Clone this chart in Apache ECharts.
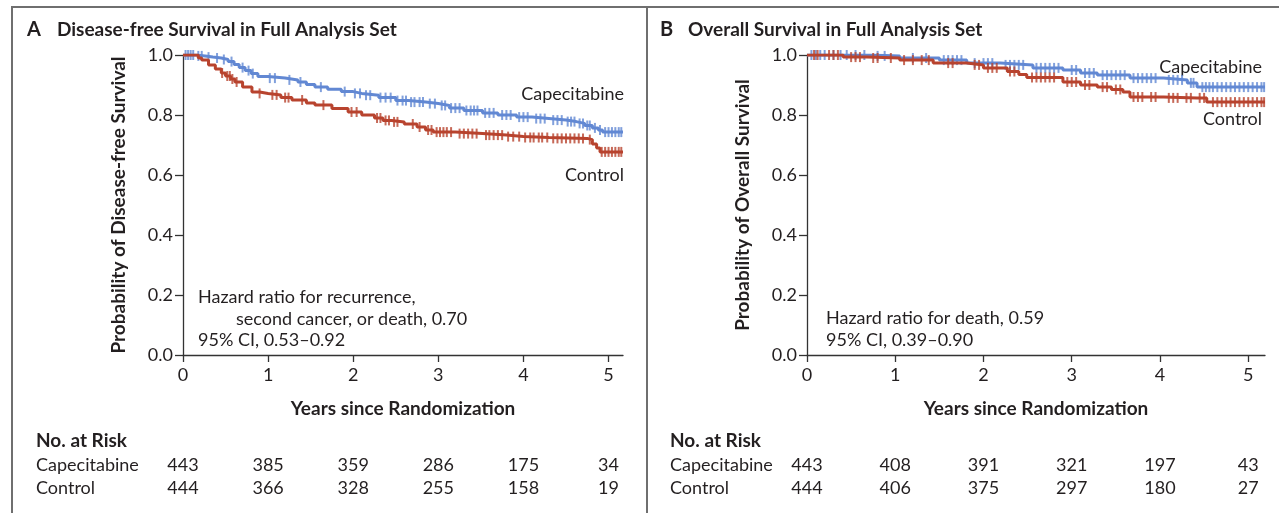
<!DOCTYPE html>
<html>
<head>
<meta charset="utf-8">
<script src="https://cdn.jsdelivr.net/npm/echarts@6/dist/echarts.min.js"></script>
<style>
html,body{margin:0;padding:0;background:#fff;}
#c{width:1279px;height:513px;}
</style>
</head>
<body>
<div id="c"></div>
<script>
// ---------- DATA ----------
var xTicks = [0, 1, 2, 3, 4, 5];
var yTicks = [0, 0.2, 0.4, 0.6, 0.8, 1.0];

// Panel A: Disease-free survival (step points [years, probability])
var dfsCape = [[0,1],[0.15,0.997],[0.26,0.993],[0.35,0.99],[0.45,0.985],[0.53,0.978],[0.6,0.968],[0.66,0.958],[0.73,0.948],[0.8,0.938],[0.88,0.928],[1.0,0.923],[1.2,0.917],[1.35,0.91],[1.45,0.902],[1.55,0.893],[1.7,0.886],[1.86,0.878],[2.0,0.872],[2.1,0.866],[2.3,0.858],[2.5,0.848],[2.65,0.843],[2.85,0.838],[3.0,0.832],[3.13,0.823],[3.3,0.815],[3.52,0.807],[3.7,0.8],[3.92,0.793],[4.1,0.788],[4.3,0.783],[4.5,0.778],[4.62,0.772],[4.72,0.765],[4.81,0.757],[4.88,0.75],[4.93,0.743],[5.17,0.743]];
var dfsCtrl = [[0,1],[0.18,0.99],[0.22,0.983],[0.3,0.967],[0.38,0.953],[0.45,0.94],[0.5,0.93],[0.56,0.92],[0.61,0.91],[0.7,0.893],[0.81,0.877],[0.9,0.872],[1.0,0.867],[1.15,0.858],[1.28,0.85],[1.45,0.84],[1.55,0.833],[1.75,0.822],[1.94,0.81],[2.1,0.8],[2.25,0.79],[2.35,0.782],[2.45,0.777],[2.6,0.77],[2.75,0.76],[2.85,0.75],[2.94,0.743],[3.2,0.738],[3.52,0.733],[3.8,0.728],[4.0,0.725],[4.3,0.722],[4.75,0.718],[4.81,0.703],[4.86,0.69],[4.9,0.677],[5.17,0.677]];
var dfsCapeCensor = [0.03,0.06,0.09,0.12,0.18,0.22,0.3,0.4,0.48,0.57,0.7,0.77,0.82,1.02,1.08,1.25,1.38,1.62,1.9,2.02,2.08,2.15,2.2,2.32,2.38,2.44,2.52,2.58,2.62,2.68,2.72,2.78,2.82,2.9,2.96,3.04,3.08,3.15,3.2,3.25,3.33,3.38,3.42,3.46,3.55,3.6,3.65,3.75,3.8,3.85,3.95,4.0,4.05,4.15,4.2,4.25,4.35,4.4,4.45,4.52,4.56,4.6,4.66,4.7,4.75,4.78,4.84,4.9,4.96,5.0,5.04,5.08,5.12,5.15];
var dfsCtrlCensor = [0.46,0.52,0.55,0.58,0.63,0.9,1.05,1.1,1.2,1.24,1.4,1.65,1.98,2.04,2.28,2.32,2.38,2.42,2.48,2.52,2.7,2.78,2.88,2.92,2.98,3.02,3.06,3.1,3.15,3.25,3.3,3.35,3.4,3.45,3.56,3.6,3.65,3.7,3.75,3.82,3.88,3.95,4.02,4.08,4.12,4.18,4.22,4.28,4.35,4.4,4.45,4.5,4.55,4.6,4.65,4.7,4.78,4.92,4.96,5.0,5.04,5.08,5.12,5.15];

// Panel B: Overall survival
var osCape = [[0,1],[0.71,0.997],[1.05,0.99],[1.5,0.983],[1.81,0.973],[2.19,0.967],[2.56,0.957],[2.9,0.95],[3.1,0.94],[3.29,0.933],[3.66,0.923],[4.04,0.917],[4.31,0.907],[4.42,0.893],[5.19,0.893]];
var osCtrl = [[0,1],[0.41,0.993],[0.68,0.99],[1.05,0.983],[1.43,0.973],[1.81,0.967],[2.0,0.957],[2.27,0.945],[2.4,0.935],[2.49,0.925],[2.9,0.91],[3.1,0.9],[3.29,0.893],[3.45,0.885],[3.58,0.877],[3.66,0.86],[4.04,0.857],[4.42,0.857],[4.53,0.843],[5.19,0.843]];
var osCapeCensor = [0.05,0.1,0.15,0.2,0.3,0.38,0.45,0.55,0.65,0.8,0.88,1.2,1.35,1.55,1.6,1.65,1.7,1.75,1.9,2.0,2.05,2.1,2.25,2.3,2.35,2.4,2.45,2.6,2.65,2.7,2.75,2.8,2.85,3.0,3.05,3.15,3.2,3.25,3.35,3.4,3.45,3.5,3.55,3.6,3.7,3.75,3.8,3.85,3.9,3.95,4.1,4.15,4.2,4.25,4.35,4.38,4.48,4.52,4.56,4.6,4.65,4.7,4.75,4.8,4.85,4.9,4.95,5.0,5.05,5.1,5.15,5.18];
var osCtrlCensor = [0.08,0.12,0.25,0.3,0.35,0.5,0.55,0.6,0.75,0.8,0.95,1.1,1.2,1.3,1.38,1.6,1.65,1.9,1.95,2.05,2.1,2.15,2.3,2.35,2.55,2.6,2.65,2.7,2.75,2.8,2.95,3.0,3.05,3.15,3.2,3.35,3.4,3.5,3.55,3.7,3.75,3.8,3.9,3.95,4.1,4.15,4.2,4.3,4.35,4.45,4.5,4.6,4.65,4.7,4.75,4.8,4.85,4.9,4.95,5.0,5.05,5.1,5.15,5.18];

// Numbers at risk
var riskYears = [0, 1, 2, 3, 4, 5];
var dfsRiskCape = [443, 385, 359, 286, 175, 34];
var dfsRiskCtrl = [444, 366, 328, 255, 158, 19];
var osRiskCape = [443, 408, 391, 321, 197, 43];
var osRiskCtrl = [444, 406, 375, 297, 180, 27];

// ---------- STYLE ----------
var FONT = 'Lato';
var FS = 18;      // regular text
var FB = 19;      // bold text
var BLUE = '#6288d3';
var RED = '#b8432e';
var TXT = '#231f20';
var AX = '#333';

function stepAt(curve, t) {
  var s = curve[0][1];
  for (var i = 0; i < curve.length; i++) { if (curve[i][0] <= t) s = curve[i][1]; }
  return s;
}
function censorPts(curve, times) { return times.map(function (t) { return [t, stepAt(curve, t)]; }); }

var chart = echarts.init(document.getElementById('c'), null, {renderer: 'canvas'});

var grids = [
  {left: 183, top: 55, width: 440, height: 300, max: 5.17},
  {left: 807, top: 55, width: 458, height: 300, max: 5.19}
];

var xAxes = [], yAxes = [];
var yNames = ['Probability of Disease-free Survival', 'Probability of Overall Survival'];
var risks = [[dfsRiskCape, dfsRiskCtrl], [osRiskCape, osRiskCtrl]];
grids.forEach(function (g, gi) {
  xAxes.push({
    type: 'value', gridIndex: gi, min: 0, max: g.max, interval: 1,
    name: 'Years since Randomization', nameLocation: 'middle', nameGap: 44,
    nameTextStyle: {fontFamily: FONT, fontWeight: 'bold', fontSize: FB, color: TXT},
    axisLine: {show: true, lineStyle: {color: AX, width: 1.3}},
    axisTick: {show: true, length: 7, lineStyle: {color: AX, width: 1.3}, customValues: xTicks},
    axisLabel: {fontFamily: FONT, fontSize: FS, color: TXT, margin: 11, customValues: xTicks,
      formatter: function (v) { return Number.isInteger(v) ? String(v) : ''; }},
    splitLine: {show: false}
  });
  [93, 116].forEach(function (off, ri) {
    var arr = risks[gi][ri];
    xAxes.push({
      type: 'value', gridIndex: gi, min: 0, max: g.max, interval: 1, position: 'bottom', offset: off,
      axisLine: {show: false}, axisTick: {show: false}, splitLine: {show: false},
      axisLabel: {fontFamily: FONT, fontSize: FS, color: TXT, margin: 8, customValues: riskYears,
        formatter: function (v) { var i = riskYears.indexOf(v); return i >= 0 ? String(arr[i]) : ''; }}
    });
  });
  yAxes.push({
    type: 'value', gridIndex: gi, min: 0, max: 1, interval: 0.2,
    name: yNames[gi], nameLocation: 'middle', nameGap: 55, nameRotate: 90,
    nameTextStyle: {fontFamily: FONT, fontWeight: 'bold', fontSize: FB, color: TXT},
    axisLine: {show: true, lineStyle: {color: AX, width: 1.3}},
    axisTick: {show: true, length: 8, lineStyle: {color: AX, width: 1.3}},
    axisLabel: {fontFamily: FONT, fontSize: FS, color: TXT, margin: 10,
      formatter: function (v) { return v.toFixed(1); }},
    splitLine: {show: false}
  });
});

function lineSeries(xi, yi, data, color, z) {
  return {type: 'line', xAxisIndex: xi, yAxisIndex: yi, data: data, step: 'end', showSymbol: false,
    symbol: 'none', lineStyle: {color: color, width: 3}, z: z, animation: false, silent: true};
}
function censorSeries(xi, yi, data, color, z) {
  return {type: 'scatter', xAxisIndex: xi, yAxisIndex: yi, data: data, symbol: 'rect', symbolSize: [2, 10],
    itemStyle: {color: color}, z: z, animation: false, silent: true};
}

var series = [
  lineSeries(0, 0, dfsCape, BLUE, 2), censorSeries(0, 0, censorPts(dfsCape, dfsCapeCensor), BLUE, 2),
  lineSeries(0, 0, dfsCtrl, RED, 3), censorSeries(0, 0, censorPts(dfsCtrl, dfsCtrlCensor), RED, 3),
  lineSeries(3, 1, osCape, BLUE, 2), censorSeries(3, 1, censorPts(osCape, osCapeCensor), BLUE, 2),
  lineSeries(3, 1, osCtrl, RED, 3), censorSeries(3, 1, censorPts(osCtrl, osCtrlCensor), RED, 3)
];

function txt(x, y, s, opt) {
  opt = opt || {};
  return {type: 'text', x: x, y: y, silent: true, style: {
    text: s, fontFamily: FONT, fontSize: opt.size || FS, fontWeight: opt.bold ? 'bold' : 'normal',
    fill: TXT, textAlign: opt.align || 'left', textVerticalAlign: 'middle'}};
}

var graphic = [
  {type: 'polyline', silent: true, shape: {points: [[12, 513], [12, 7], [1279, 7]]}, style: {stroke: '#6f6f6f', lineWidth: 2, fill: null}},
  {type: 'line', silent: true, shape: {x1: 647, y1: 7, x2: 647, y2: 513}, style: {stroke: '#6f6f6f', lineWidth: 2}},
  txt(27, 30, 'A', {bold: true, size: 20}),
  txt(57, 30, 'Disease-free Survival in Full Analysis Set', {bold: true, size: FB}),
  txt(660, 30, 'B', {bold: true, size: 20}),
  txt(688, 30, 'Overall Survival in Full Analysis Set', {bold: true, size: FB}),
  txt(624, 94, 'Capecitabine', {align: 'right'}),
  txt(624, 175, 'Control', {align: 'right'}),
  txt(1262, 67, 'Capecitabine', {align: 'right'}),
  txt(1262, 119, 'Control', {align: 'right'}),
  txt(198, 297, 'Hazard ratio for recurrence,'),
  txt(236, 319, 'second cancer, or death, 0.70'),
  txt(198, 340, '95% CI, 0.53\u20130.92'),
  txt(826, 318, 'Hazard ratio for death, 0.59'),
  txt(826, 340, '95% CI, 0.39\u20130.90'),
  txt(36, 441, 'No. at Risk', {bold: true, size: FB}),
  txt(36, 465, 'Capecitabine'),
  txt(36, 488, 'Control'),
  txt(670, 441, 'No. at Risk', {bold: true, size: FB}),
  txt(670, 465, 'Capecitabine'),
  txt(670, 488, 'Control')
];

chart.setOption({
  animation: false,
  backgroundColor: '#fff',
  grid: grids.map(function (g) { return {left: g.left, top: g.top, width: g.width, height: g.height, containLabel: false}; }),
  xAxis: xAxes,
  yAxis: yAxes,
  series: series,
  graphic: graphic
});
</script>
</body>
</html>
